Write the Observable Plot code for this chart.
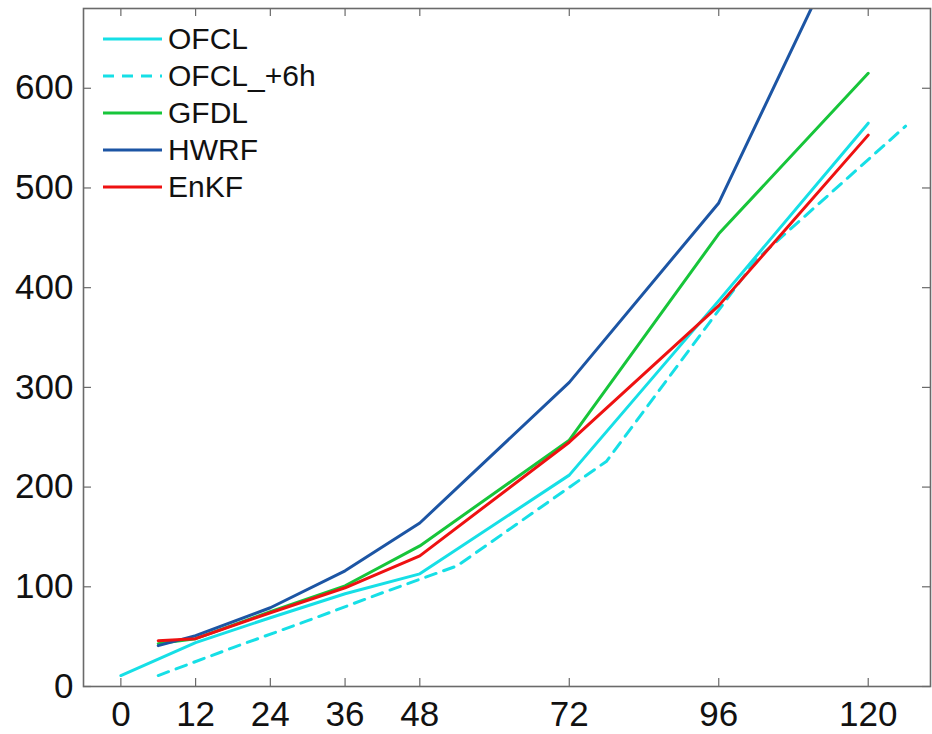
<!DOCTYPE html>
<html>
<head>
<meta charset="utf-8">
<script src="https://cdn.jsdelivr.net/npm/d3@7"></script>
<script src="https://cdn.jsdelivr.net/npm/@observablehq/plot@0.6"></script>
<style>
  html, body { margin: 0; padding: 0; background: #fff; overflow: hidden; }
  #wrap { position: relative; width: 932px; height: 734px; }
  #legend { position: absolute; left: 0; top: 0; font-family: "Liberation Sans", Arial, Helvetica, sans-serif; font-size: 30px; color: #111; }
  .row { position: absolute; left: 103px; height: 37px; display: flex; align-items: center; white-space: nowrap; }
  .row svg { display: block; margin-right: 6px; }
</style>
</head>
<body>
<div id="wrap"><div id="legend"></div></div>
<script>
// ---- data ----
const xTicks = [0, 12, 24, 36, 48, 72, 96, 120];
const yTicks = [0, 100, 200, 300, 400, 500, 600];

const hoursOFCL = [0, 12, 24, 36, 48, 72, 96, 120];
const valuesOFCL = [11, 44, 69, 93, 113, 212, 387, 565];

const hoursOFCL6 = [6, 18, 30, 42, 54, 78, 102, 126];
const valuesOFCL6 = [11, 39, 66, 94, 121, 226, 428, 562];

const hoursModels = [6, 12, 24, 36, 48, 72, 96, 120];
const valuesGFDL = [43, 48, 75, 101, 141, 247, 454, 615];
const valuesHWRF = [41, 51, 79, 116, 164, 305, 485, 800];
const valuesEnKF = [46, 48, 74, 99, 131, 245, 382, 553];

const seriesNames = ["OFCL", "OFCL_+6h", "GFDL", "HWRF", "EnKF"];
const seriesColors = ["#16dfe6", "#16dfe6", "#17c53a", "#1c55a4", "#ee1111"];
const seriesDash = [null, "11,8", null, null, null];

// ---- build table ----
const seriesHours = [hoursOFCL, hoursOFCL6, hoursModels, hoursModels, hoursModels];
const seriesValues = [valuesOFCL, valuesOFCL6, valuesGFDL, valuesHWRF, valuesEnKF];
const rows = [];
seriesNames.forEach((name, i) => {
  seriesHours[i].forEach((h, j) => rows.push({series: name, h, v: seriesValues[i][j]}));
});

const W = 932, H = 734;
const mL = 83, mR = 2, mT = 8, mB = 48;
const frameW = W - mL - mR, frameH = H - mT - mB;
const tickLen = 8;
const axisColor = "#6a6a6a";

const lineMarks = seriesNames.map((name, i) =>
  Plot.line(rows.filter(d => d.series === name), {
    x: "h", y: "v",
    stroke: seriesColors[i],
    strokeWidth: 3,
    strokeDasharray: seriesDash[i] || undefined,
    strokeLinejoin: "round",
    clip: true
  })
);

const chart = Plot.plot({
  width: W, height: H,
  marginLeft: mL, marginRight: mR, marginTop: mT, marginBottom: mB,
  style: {fontFamily: "Liberation Sans, Arial, Helvetica, sans-serif", fontSize: "35px", background: "#fff", color: "#111"},
  x: {domain: [-6, 130]},
  y: {domain: [0, 680]},
  marks: [
    Plot.axisX(xTicks, {tickSize: 0, tickPadding: 15, fontSize: 35, fill: "#111", label: null}),
    Plot.axisY(yTicks, {tickSize: 0, tickPadding: 10, fontSize: 35, fill: "#111", label: null}),
    // inward ticks: bottom, top, left, right
    Plot.tickX(xTicks, {x: d => d, insetTop: frameH - tickLen, stroke: axisColor, strokeWidth: 1.2}),
    Plot.tickX(xTicks, {x: d => d, insetBottom: frameH - tickLen, stroke: axisColor, strokeWidth: 1.2}),
    Plot.tickY(yTicks, {y: d => d, insetRight: frameW - tickLen, stroke: axisColor, strokeWidth: 1.2}),
    Plot.tickY(yTicks, {y: d => d, insetLeft: frameW - tickLen, stroke: axisColor, strokeWidth: 1.2}),
    ...lineMarks,
    Plot.frame({stroke: axisColor, strokeWidth: 1.6})
  ]
});

const wrap = document.getElementById("wrap");
wrap.insertBefore(chart, wrap.firstChild);

// ---- legend (inside the axes, top-left) ----
const legend = document.getElementById("legend");
seriesNames.forEach((name, i) => {
  const row = document.createElement("div");
  row.className = "row";
  row.style.top = (39 + 37 * i - 18.5) + "px";
  const dash = seriesDash[i] ? ` stroke-dasharray="${seriesDash[i]}"` : "";
  row.innerHTML = `<svg width="59" height="8"><line x1="0" y1="4" x2="59" y2="4" stroke="${seriesColors[i]}" stroke-width="3"${dash}/></svg><span>${name}</span>`;
  legend.appendChild(row);
});
</script>
</body>
</html>
